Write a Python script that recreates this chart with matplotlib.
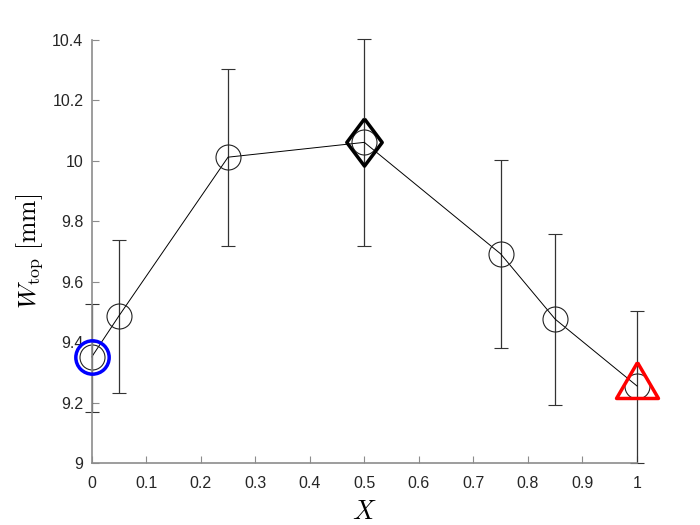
import matplotlib.pyplot as plt
import numpy as np

# data
x = [0, 0.05, 0.25, 0.5, 0.75, 0.85, 1]
y = [9.351, 9.487, 10.012, 10.061, 9.692, 9.476, 9.255]
y_low = [9.168, 9.231, 9.717, 9.717, 9.380, 9.191, 9.0]
y_high = [9.527, 9.738, 10.303, 10.403, 10.001, 9.758, 9.503]

xticks = [0, 0.1, 0.2, 0.3, 0.4, 0.5, 0.6, 0.7, 0.8, 0.9, 1]
yticks = [9, 9.2, 9.4, 9.6, 9.8, 10, 10.2, 10.4]

plt.rcParams['font.family'] = ['Liberation Sans', 'DejaVu Sans']
plt.rcParams['mathtext.fontset'] = 'cm'

fig = plt.figure(figsize=(7, 5.25), dpi=100)
ax = fig.add_axes([0.131, 0.118, 0.779, 0.806])

yerr = [np.array(y) - np.array(y_low), np.array(y_high) - np.array(y)]
eb = ax.errorbar(x, y, yerr=yerr, fmt='-o', color='k', lw=0.7, elinewidth=0.9,
                 ecolor='#333333', capsize=5, capthick=0.9, ms=18,
                 mfc='none', mec='#222222', mew=0.8, zorder=2)
for art in [eb.lines[0]] + list(eb.lines[1]) + list(eb.lines[2]):
    art.set_clip_on(False)

# highlighted points
diamond = [(0, 1), (0.75, 0), (0, -1), (-0.75, 0), (0, 1)]
triangle = [(0, 1), (0.875, -0.5), (-0.875, -0.5), (0, 1)]
ax.plot(x[0], y[0], 'o', ms=24, mfc='none', mec='#0000ff', mew=2.5,
        zorder=3, clip_on=False)
ax.plot(x[3], y[3], ls='none', marker=diamond, ms=34, mfc='none', mec='k',
        mew=2.5, zorder=3, clip_on=False)
ax.plot(x[6], y[6], ls='none', marker=triangle, ms=34.5, mfc='none',
        mec='#ff0000', mew=2.5, zorder=3, clip_on=False)

ax.set_xlim(0, 1)
ax.set_ylim(9, 10.4)
ax.set_xticks(xticks)
ax.set_yticks(yticks)
ax.set_xticklabels(['%g' % t for t in xticks])
ax.set_yticklabels(['%g' % t for t in yticks])

for s in ['top', 'right']:
    ax.spines[s].set_visible(False)
for s in ['left', 'bottom']:
    ax.spines[s].set_color('#8c8c8c')
    ax.spines[s].set_linewidth(1.2)
ax.tick_params(direction='in', length=5, width=0.8, color='#8c8c8c',
               labelcolor='#262626', labelsize=11.5)
ax.tick_params(axis='x', pad=9)
ax.tick_params(axis='y', pad=6)

ax.set_xlabel('$X$', fontsize=19, labelpad=7)
ax.set_ylabel(r'$W_{\rm top}\ [\rm mm]$', fontsize=18.5, labelpad=5)

fig.savefig('out.png', dpi=100)
